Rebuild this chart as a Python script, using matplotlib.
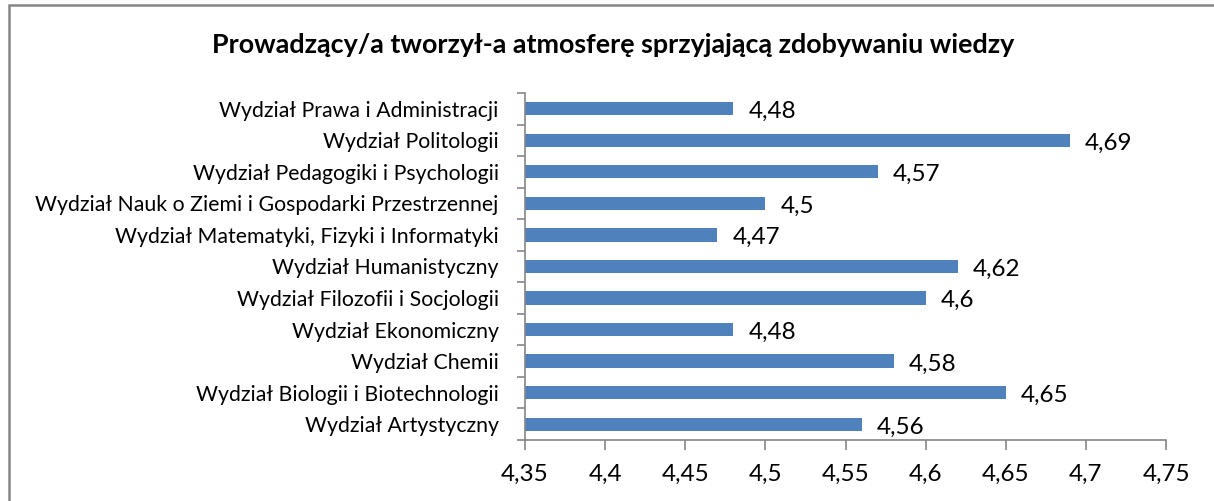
import matplotlib.pyplot as plt
from matplotlib.patches import Rectangle
from matplotlib.ticker import FixedLocator

plt.rcParams['font.family'] = ['Lato', 'DejaVu Sans']

categories = [
    'Wydział Artystyczny',
    'Wydział Biologii i Biotechnologii',
    'Wydział Chemii',
    'Wydział Ekonomiczny',
    'Wydział Filozofii i Socjologii',
    'Wydział Humanistyczny',
    'Wydział Matematyki, Fizyki i Informatyki',
    'Wydział Nauk o Ziemi i Gospodarki Przestrzennej',
    'Wydział Pedagogiki i Psychologii',
    'Wydział Politologii',
    'Wydział Prawa i Administracji',
]
values = [4.56, 4.65, 4.58, 4.48, 4.60, 4.62, 4.47, 4.50, 4.57, 4.69, 4.48]
x_ticks = [4.35, 4.4, 4.45, 4.5, 4.55, 4.6, 4.65, 4.7, 4.75]
title = 'Prowadzący/a tworzył-a atmosferę sprzyjającą zdobywaniu wiedzy'


def fmt(v):
    return ('%g' % v).replace('.', ',')


fig = plt.figure(figsize=(12.14, 5.01), dpi=100)
ax = fig.add_axes([0.4325, 0.1218, 0.528, 0.6926])

# chart frame (only left and top edges visible in the crop)
fig.patches.append(Rectangle((9 / 1214, -0.1), 1.2, 1 - 5 / 501 + 0.1,
                             transform=fig.transFigure, fill=False,
                             edgecolor='#868686', linewidth=1.8))

y = range(len(categories))
ax.barh(y, [v - x_ticks[0] for v in values], left=x_ticks[0], height=0.42, color='#4F81BD')

for i, v in enumerate(values):
    ax.annotate(fmt(v), (v, i), xytext=(11, -2), textcoords='offset points',
                va='center', ha='left', fontsize=17.5)

ax.set_xlim(x_ticks[0], x_ticks[-1])
ax.set_ylim(-0.5, len(categories) - 0.5)
ax.set_xticks(x_ticks)
ax.set_xticklabels([fmt(t) for t in x_ticks], fontsize=17.5)
ax.set_yticks(list(y))
ax.set_yticklabels(categories, fontsize=15.3)
ax.yaxis.set_minor_locator(FixedLocator([i - 0.5 for i in range(len(categories) + 1)]))

ax.tick_params(axis='y', which='major', length=0, pad=19)
ax.tick_params(axis='y', which='minor', length=6, color='#868686', width=1.2)
ax.tick_params(axis='x', length=7, color='#868686', width=1.2, pad=10)

for s in ['top', 'right']:
    ax.spines[s].set_visible(False)
for s in ['left', 'bottom']:
    ax.spines[s].set_color('#868686')
    ax.spines[s].set_linewidth(1.2)

fig.text(0.505, 0.91, title, ha='center', va='center', fontsize=19.4, fontweight='bold')

fig.savefig('out.png', dpi=100)
